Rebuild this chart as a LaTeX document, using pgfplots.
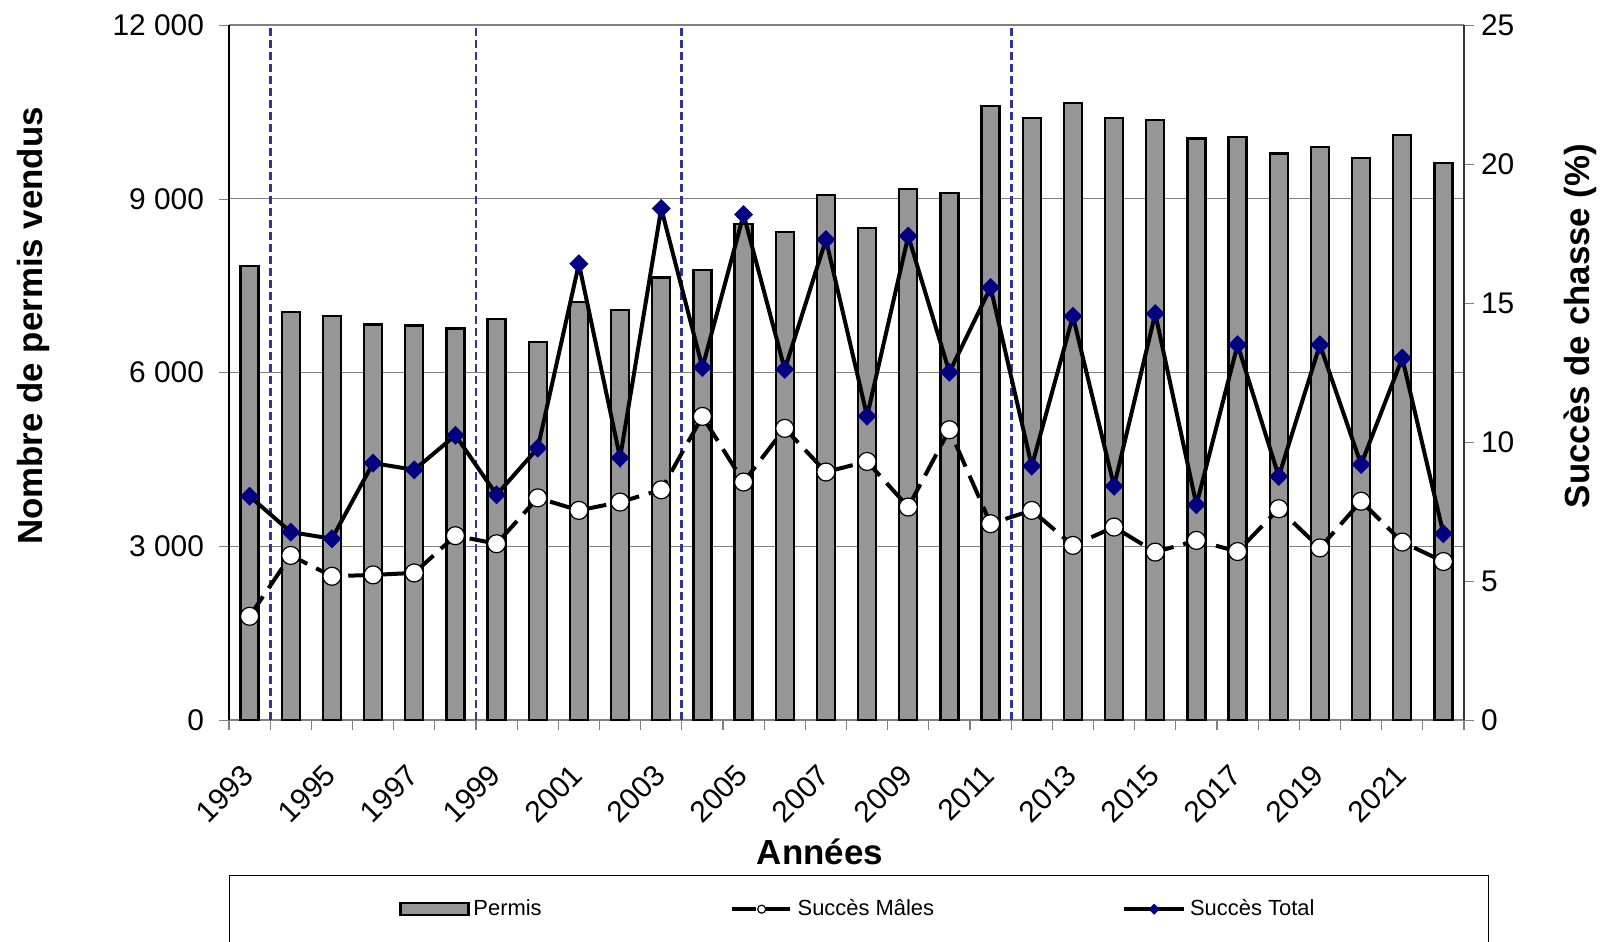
\documentclass[border=0pt]{standalone}
\usepackage{fontspec}
\setmainfont{Liberation Sans}
\usepackage{pgfplots}
\usepackage{pgfplotstable}
\pgfplotsset{compat=1.18}
\usetikzlibrary{calc}

\definecolor{barcol}{RGB}{150,150,150}
\definecolor{navymk}{RGB}{0,0,128}
\definecolor{sepblue}{RGB}{51,51,153}
\definecolor{gridgray}{RGB}{128,128,128}

% idx 0 = 1993 ... 29 = 2022
\pgfplotstableread{
idx permis males total
0  7840  3.73  8.05
1  7050  5.92  6.76
2  6970  5.17  6.52
3  6830  5.22  9.24
4  6810  5.29  9.00
5  6760  6.63 10.24
6  6930  6.34  8.10
7  6520  7.99  9.78
8  7220  7.54 16.41
9  7080  7.84  9.43
10 7640  8.28 18.40
11 7770 10.92 12.68
12 8560  8.56 18.18
13 8420 10.49 12.61
14 9060  8.92 17.28
15 8490  9.30 10.93
16 9170  7.66 17.41
17 9100 10.44 12.51
18 10600 7.06 15.56
19 10400 7.54  9.13
20 10660 6.28 14.52
21 10390 6.94  8.41
22 10360 6.04 14.62
23 10040 6.46  7.74
24 10070 6.06 13.50
25 9780  7.60  8.76
26 9890  6.19 13.50
27 9710  7.87  9.19
28 10100 6.40 13.02
29 9620  5.70  6.70
}\data

\pgfplotsset{
  common/.style={
    scale only axis, width=617.5bp, height=347.5bp,
    xmin=-0.5, xmax=29.5,
    tick align=outside, major tick length=5bp,
    ticklabel style={font=\fontsize{15}{18}\selectfont},
    /pgf/number format/1000 sep={\ },
    /pgf/number format/assume math mode=true,
    scaled ticks=false,
    label style={font=\fontsize{17.5}{20}\selectfont\bfseries},
  },
  linelegend/.style={legend image code/.code={
    \draw[mark repeat=2, mark phase=2, ##1, mark size=#1]
      plot coordinates {(0bp,0bp) (15bp,0bp) (30bp,0bp)};}},
  barlegend/.style={legend image code/.code={
    \draw[fill=barcol, draw=black, line width=1.1bp] (0bp,-3bp) rectangle (34bp,3bp);}},
}

\begin{document}
\begin{tikzpicture}
\begin{axis}[common, name=ax,
  ymin=0, ymax=12000,
  axis y line*=left, axis x line*=bottom,
  y axis line style={-, black, line width=0.6bp},
  x axis line style={-, gridgray, line width=0.6bp},
  ytick={0,3000,...,12000},
  yticklabel style={xshift=-4bp},
  ymajorgrids, major grid style={gridgray, line width=0.6bp},
  xtick={0,2,...,28},
  xticklabels={1993,1995,1997,1999,2001,2003,2005,2007,2009,2011,2013,2015,2017,2019,2021},
  every major x tick/.append style={draw=none},
  minor xtick={-0.5,0.5,...,29.5},
  minor tick length=5bp,
  every minor x tick/.append style={gridgray, line width=0.6bp},
  xticklabel style={xshift=-4.5bp, yshift=-16bp, rotate=45, anchor=north east, inner sep=0pt},
  ylabel={Nombre de permis vendus},
  ylabel style={at={(axis description cs:-0.158,0.567)}, anchor=center},
  xlabel={Années},
  xlabel style={at={(axis description cs:0.4785,-0.19)}, anchor=center},
]
\addplot[ybar, bar width=9bp, bar shift=0pt, fill=barcol, draw=black, line width=1.1bp]
  table[x=idx, y=permis] {\data};
% period separators (between 1993/1994, 1998/1999, 2003/2004, 2011/2012)
\foreach \s in {0.5,5.5,10.5,18.5}{
  \edef\tmp{\noexpand\draw[sepblue, line width=1.4bp, dash pattern=on 4bp off 2bp]
    (axis cs:\s,0) -- (axis cs:\s,12000);}\tmp
}
\end{axis}

\begin{axis}[common,
  ymin=0, ymax=25,
  axis x line=none, axis y line*=right,
  y axis line style={-, black!80, line width=0.6bp},
  ytick={0,5,...,25},
  ylabel={Succès de chasse (\%)},
  ylabel style={at={(axis description cs:1.094,0.567)}, anchor=center},
  legend columns=3,
  legend style={at={(axis description cs:0.51,-0.223)}, anchor=north,
    draw=black, line width=0.6bp,
    font=\fontsize{11}{13}\selectfont,
    inner xsep=85bp, inner ysep=10bp,
    nodes={inner sep=2bp},
    /tikz/every even column/.append style={column sep=92bp}},
]
\addlegendimage{barlegend}
\addplot[black, line width=2bp, dash pattern=on 12bp off 5bp,
  mark=*, mark size=4.5bp,
  mark options={solid, fill=white, draw=black, line width=0.6bp},
  linelegend=2bp]
  table[x=idx, y=males] {\data};
\addplot[black, line width=2bp,
  mark=square*, mark size=3.2bp,
  mark options={rotate=45, fill=navymk, draw=navymk, line width=0.3bp},
  linelegend=1.8bp]
  table[x=idx, y=total] {\data};
\legend{Permis, Succès Mâles, Succès Total}
\end{axis}

\pgfresetboundingbox
\path ($(ax.south west)+(-114.5bp,-111bp)$) rectangle ($(ax.north east)+(68.5bp,12.5bp)$);
\end{tikzpicture}
\end{document}
